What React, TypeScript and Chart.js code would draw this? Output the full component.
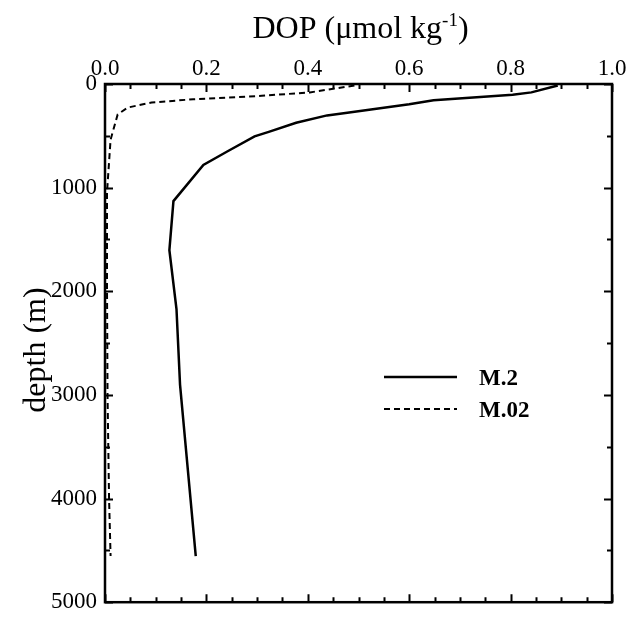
import React, { useEffect, useRef } from 'react';
import { Chart, registerables } from 'chart.js';

Chart.register(...registerables);

// ---- data ----
const seriesNames = ['M.2', 'M.02'];
const m2Dop = [0.893, 0.841, 0.804, 0.648, 0.6, 0.478, 0.438, 0.377, 0.323, 0.295, 0.241, 0.194, 0.135, 0.127, 0.141, 0.148, 0.179];
const m2Depth = [15, 81, 104, 156, 195, 277, 303, 374, 462, 505, 651, 781, 1130, 1603, 2171, 2900, 4555];
const m02Dop = [0.492, 0.404, 0.309, 0.174, 0.092, 0.045, 0.025, 0.011, 0.004, 0.004, 0.005, 0.008, 0.011];
const m02Depth = [15, 81, 114, 147, 179, 227, 294, 537, 1042, 2000, 3000, 4000, 4555];
const dopTickValues = [0, 0.2, 0.4, 0.6, 0.8, 1.0];
const depthTickValues = [0, 1000, 2000, 3000, 4000, 5000];
const dopMinorStep = 0.05;
const depthMinorStep = 500;
const xTitleMain = 'DOP (\u03bcmol kg';
const xTitleSup = '-1';
const xTitleEnd = ')';
const yTitle = 'depth (m)';

const SERIF = "'Liberation Serif', 'Times New Roman', serif";

const framePlugin = {
  id: 'frameAndTicks',
  afterDraw(chart: any) {
    const { ctx, chartArea: a, scales } = chart;
    const xs = scales.x;
    const ys = scales.y;
    ctx.save();
    ctx.strokeStyle = '#000';
    ctx.lineWidth = 2;
    ctx.lineCap = 'butt';
    // ticks on x (top and bottom), inward
    const nX = Math.round((xs.max - xs.min) / dopMinorStep);
    for (let i = 0; i <= nX; i++) {
      const v = xs.min + i * dopMinorStep;
      const px = Math.round(xs.getPixelForValue(v)) + 0.5;
      const major = Math.abs(v / 0.2 - Math.round(v / 0.2)) < 1e-6;
      const len = major ? 8 : 5;
      ctx.beginPath();
      ctx.moveTo(px, a.top);
      ctx.lineTo(px, a.top + len);
      ctx.moveTo(px, a.bottom);
      ctx.lineTo(px, a.bottom - len);
      ctx.stroke();
    }
    const nY = Math.round((ys.max - ys.min) / depthMinorStep);
    for (let i = 0; i <= nY; i++) {
      const v = ys.min + i * depthMinorStep;
      const py = Math.round(ys.getPixelForValue(v)) + 0.5;
      const major = v % 1000 === 0;
      const len = major ? 8 : 5;
      ctx.beginPath();
      ctx.moveTo(a.left, py);
      ctx.lineTo(a.left + len, py);
      ctx.moveTo(a.right, py);
      ctx.lineTo(a.right - len, py);
      ctx.stroke();
    }
    // frame
    ctx.lineWidth = 2.5;
    ctx.strokeRect(a.left, a.top, a.right - a.left, a.bottom - a.top);

    // x title with superscript
    ctx.fillStyle = '#000';
    ctx.textBaseline = 'alphabetic';
    ctx.textAlign = 'left';
    const mainFont = `32px ${SERIF}`;
    const supFont = `19px ${SERIF}`;
    ctx.font = mainFont;
    const w1 = ctx.measureText(xTitleMain).width;
    const w3 = ctx.measureText(xTitleEnd).width;
    ctx.font = supFont;
    const w2 = ctx.measureText(xTitleSup).width;
    const total = w1 + w2 + w3;
    const cx = (a.left + a.right) / 2 + 2;
    const x0 = cx - total / 2;
    const base = 38;
    ctx.font = mainFont;
    ctx.fillText(xTitleMain, x0, base);
    ctx.font = supFont;
    ctx.fillText(xTitleSup, x0 + w1, base - 12);
    ctx.font = mainFont;
    ctx.fillText(xTitleEnd, x0 + w1 + w2, base);

    // y title
    ctx.save();
    ctx.translate(45, 350);
    ctx.rotate(-Math.PI / 2);
    ctx.textAlign = 'center';
    ctx.font = `32px ${SERIF}`;
    ctx.fillText(yTitle, 0, 0);
    ctx.restore();

    // legend
    const ds = chart.data.datasets;
    const legendY = [377, 409];
    ds.forEach((d: any, i: number) => {
      ctx.save();
      ctx.strokeStyle = '#000';
      ctx.lineWidth = d.borderWidth;
      ctx.setLineDash(d.borderDash || []);
      ctx.beginPath();
      ctx.moveTo(384, legendY[i]);
      ctx.lineTo(457, legendY[i]);
      ctx.stroke();
      ctx.restore();
      ctx.font = `bold 23px ${SERIF}`;
      ctx.textAlign = 'left';
      ctx.textBaseline = 'middle';
      ctx.fillText(d.label, 479, legendY[i] + 2);
    });
    ctx.restore();
  },
};

export default function App() {
  const ref = useRef<HTMLCanvasElement | null>(null);
  useEffect(() => {
    if (!ref.current) return;
    const chart = new Chart(ref.current, {
      type: 'line',
      data: {
        datasets: [
          {
            label: seriesNames[0],
            data: m2Dop.map((v, i) => ({ x: v, y: m2Depth[i] })),
            borderColor: '#000',
            borderWidth: 2.5,
            pointRadius: 0,
            tension: 0,
            fill: false,
          },
          {
            label: seriesNames[1],
            data: m02Dop.map((v, i) => ({ x: v, y: m02Depth[i] })),
            borderColor: '#000',
            borderWidth: 2,
            borderDash: [6, 4],
            pointRadius: 0,
            tension: 0,
            fill: false,
          },
        ],
      },
      options: {
        responsive: false,
        animation: false,
        devicePixelRatio: 1,
        layout: { padding: { left: 0, top: 0, right: 17, bottom: 12 } },
        plugins: { legend: { display: false }, tooltip: { enabled: false } },
        scales: {
          x: {
            type: 'linear',
            position: 'top',
            min: 0,
            max: 1,
            afterBuildTicks: (s: any) => {
              s.ticks = dopTickValues.map((v) => ({ value: v }));
            },
            afterFit: (s: any) => {
              s.height = 84;
            },
            ticks: {
              color: '#000',
              font: { family: SERIF, size: 23 },
              padding: 1,
              maxRotation: 0,
              callback: (v: any) => Number(v).toFixed(1),
            },
            grid: { display: false, drawTicks: false, tickLength: 0 },
            border: { display: false },
          },
          y: {
            type: 'linear',
            reverse: true,
            min: 0,
            max: 5000,
            afterBuildTicks: (s: any) => {
              s.ticks = depthTickValues.map((v) => ({ value: v }));
            },
            afterFit: (s: any) => {
              s.width = 105;
            },
            ticks: {
              color: '#000',
              font: { family: SERIF, size: 23 },
              padding: 8,
              callback: (v: any) => String(v),
            },
            grid: { display: false, drawTicks: false, tickLength: 0 },
            border: { display: false },
          },
        },
      },
      plugins: [framePlugin],
    } as any);
    return () => chart.destroy();
  }, []);
  return (
    <div style={{ position: 'absolute', left: 0, top: 0, width: 629, height: 624, background: '#fff' }}>
      <canvas ref={ref} width={629} height={624} style={{ display: 'block' }} />
    </div>
  );
}
